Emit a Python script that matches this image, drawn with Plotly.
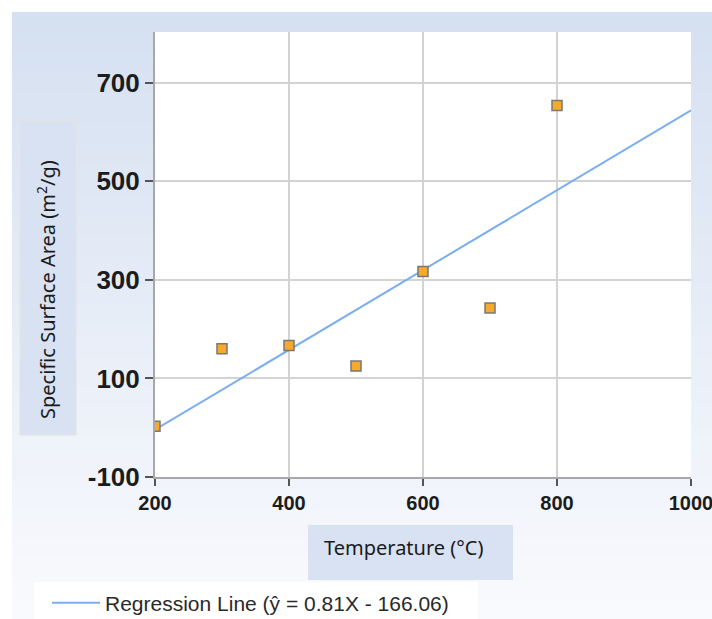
import plotly.graph_objects as go

# Calcination temperature vs. specific surface area
temperature = [200, 300, 400, 500, 600, 700, 800]
surface_area = [3, 160, 167, 125, 317, 243, 654]

# Least-squares fit shown in the legend
slope = 0.81
intercept = -166.06
fit_x = [200, 1000]
fit_y = [slope * x + intercept for x in fit_x]

x_ticks = [200, 400, 600, 800, 1000]
y_ticks = [-100, 100, 300, 500, 700]

W, H = 712, 619
L, R, T, B = 155, 21, 32, 142
pw, ph = W - L - R, H - T - B


def px_x(px):
    return (px - L) / pw


def px_y(py):
    return (H - B - py) / ph


shapes = []
# soft vertical gradient behind the chart
top_rgb = (213, 224, 241)
bot_rgb = (249, 250, 253)
n = 60
y_start, y_end = 12, H
for i in range(n):
    t = i / (n - 1)
    c = tuple(round(a + (b - a) * t) for a, b in zip(top_rgb, bot_rgb))
    y0 = y_start + (y_end - y_start) * i / n
    y1 = y_start + (y_end - y_start) * (i + 1) / n + 1
    shapes.append(dict(type="rect", xref="paper", yref="paper", layer="below",
                       x0=px_x(12), x1=px_x(W + 2), y0=px_y(y1), y1=px_y(y0),
                       line=dict(width=0), fillcolor="rgb(%d,%d,%d)" % c))
# white plotting area
shapes.append(dict(type="rect", xref="paper", yref="paper", layer="below",
                   x0=0, x1=1, y0=0, y1=1, line=dict(width=0), fillcolor="white"))
# title panels
shapes.append(dict(type="rect", xref="paper", yref="paper", layer="below",
                   x0=px_x(20), x1=px_x(76), y0=px_y(435), y1=px_y(121),
                   line=dict(width=1, color="#e6e3dc"), fillcolor="#d8e2f2"))
shapes.append(dict(type="rect", xref="paper", yref="paper", layer="below",
                   x0=px_x(308), x1=px_x(513), y0=px_y(580), y1=px_y(525),
                   line=dict(width=0), fillcolor="#d8e2f2"))
# legend panel
shapes.append(dict(type="rect", xref="paper", yref="paper", layer="below",
                   x0=px_x(34), x1=px_x(478), y0=px_y(H + 2), y1=px_y(582),
                   line=dict(width=0), fillcolor="white"))

fig = go.Figure()
fig.add_trace(go.Scatter(
    x=fit_x, y=fit_y, mode="lines",
    name="Regression Line (\u0177 = 0.81X - 166.06)",
    line=dict(color="#7aaeef", width=2),
))
fig.add_trace(go.Scatter(
    x=temperature, y=surface_area, mode="markers", showlegend=False,
    marker=dict(symbol="square", size=10, color="#f7a92c",
                line=dict(color="#787878", width=1.5)),
))

tick_font_y = dict(family="Liberation Sans, Arial", size=26, color="#1c1c1c", weight="bold")
tick_font_x = dict(family="Liberation Sans, Arial", size=20, color="#1c1c1c", weight="bold")

fig.update_layout(
    width=W, height=H,
    margin=dict(l=L, r=R, t=T, b=B, pad=0, autoexpand=False),
    paper_bgcolor="white",
    plot_bgcolor="rgba(0,0,0,0)",
    shapes=shapes,
    showlegend=True,
    legend=dict(x=px_x(47), y=px_y(603), xanchor="left", yanchor="middle",
                bgcolor="rgba(0,0,0,0)", borderwidth=0, itemwidth=48,
                font=dict(family="Liberation Sans, Arial", size=21, color="#2a2a2a")),
    annotations=[
        dict(text="Specific Surface Area (m<sup>2</sup>/g)", xref="paper", yref="paper",
             x=px_x(46), y=px_y(290), textangle=-90, showarrow=False,
             xanchor="center", yanchor="middle",
             font=dict(family="Noto Sans, Open Sans", size=20, color="#1a1a1a")),
        dict(text="Temperature (\u00b0C)", xref="paper", yref="paper",
             x=px_x(322), y=px_y(547), showarrow=False,
             xanchor="left", yanchor="middle",
             font=dict(family="Noto Sans, Open Sans", size=20, color="#1a1a1a")),
    ],
)

fig.update_xaxes(
    range=[200, 1000], tickvals=x_ticks, ticktext=[str(v) for v in x_ticks],
    showgrid=True, gridcolor="#d3d3d3", gridwidth=1.5,
    showline=True, linecolor="#a8a8a8", linewidth=2,
    ticks="outside", ticklen=7, tickwidth=2, tickcolor="#555555",
    tickfont=tick_font_x, ticklabelstandoff=0, ticklabeloverflow="allow",
    zeroline=False,
)
fig.update_yaxes(
    range=[-100, 803], tickvals=y_ticks, ticktext=[str(v) for v in y_ticks],
    showgrid=True, gridcolor="#d3d3d3", gridwidth=1.5,
    showline=True, linecolor="#a8a8a8", linewidth=2,
    ticks="outside", ticklen=8, tickwidth=2, tickcolor="#555555",
    tickfont=tick_font_y, zeroline=False,
)

fig.write_html("out.html")
